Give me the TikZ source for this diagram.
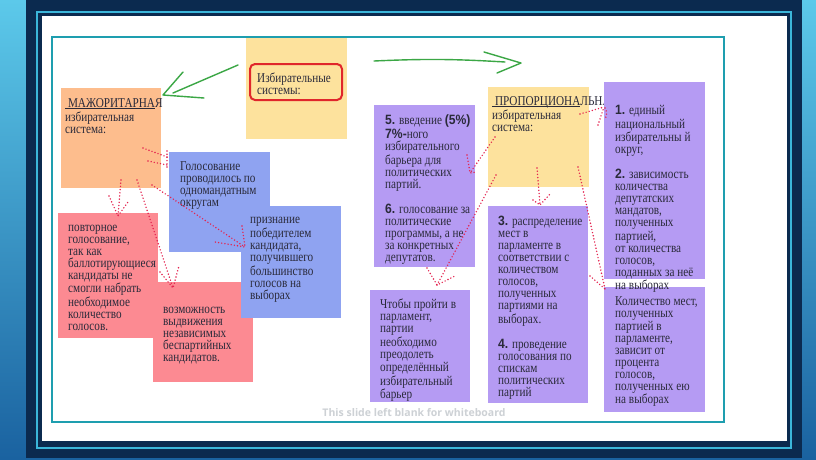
\documentclass[tikz,border=0pt]{standalone}
\usepackage{fontspec}
\setmainfont{Liberation Serif}[FakeStretch=0.83]
\newfontfamily\numfont{Liberation Sans}[FakeStretch=0.9]
\newfontfamily\notefont{Open Sans}
\usetikzlibrary{positioning}

\definecolor{bgtop}{HTML}{5CC9EA}
\definecolor{bgbot}{HTML}{1A62A0}
\definecolor{navy}{HTML}{0B2A4F}
\definecolor{skyline}{HTML}{3BB6DA}
\definecolor{tealline}{HTML}{1E9EAF}
\definecolor{cardyellow}{HTML}{FDE29D}
\definecolor{cardorange}{HTML}{FDBD8D}
\definecolor{cardblue}{HTML}{8FA3F1}
\definecolor{cardred}{HTML}{FC8A92}
\definecolor{cardviolet}{HTML}{B59BF3}
\definecolor{inkgray}{HTML}{2A2A3A}
\definecolor{dotred}{HTML}{E4234F}
\definecolor{pengreen}{HTML}{3BA745}
\definecolor{framered}{HTML}{E0262B}
\definecolor{notegray}{HTML}{CDD1D5}

\newcommand\nb[1]{{\numfont\bfseries #1}}
\newcommand\fatline[1]{\setbox0\hbox{#1}\rlap{\rule[-2.2pt]{\wd0}{1.2pt}}\box0}

\begin{document}
\begin{tikzpicture}[x=1pt,y=-1pt,
  card/.style={anchor=north west, inner sep=0pt, minimum width=101pt},
  words/.style={inner sep=0pt, align=left, text=inkgray, font=\fontsize{13.5}{12}\selectfont},
  redots/.style={draw=dotred, line width=1.6pt, line cap=round, dash pattern=on 0pt off 3.2pt},
  pen/.style={draw=pengreen, line width=1.4pt, line cap=round, line join=round}]

\useasboundingbox (0,0) rectangle (816,459);

% slide frame
\shade[top color=bgtop, bottom color=bgbot] (0,0) rectangle (816,459);
\fill[navy] (26,0) rectangle (802,458);
\draw[skyline, line width=2.5pt] (37,12) rectangle (791,448);
\fill[white] (42,16) rectangle (787,441);
\draw[tealline, line width=1.6pt] (52,37) rectangle (724,422);

% title
\node[card, fill=cardyellow, minimum height=101pt] (sys) at (246,38) {};
\node[draw=framered, line width=2pt, rounded corners=5pt, minimum width=92pt, minimum height=36pt, inner sep=0pt,
  below right=25pt and 3pt of sys.north west] (sysframe) {};
\node[words, below right=35pt and 11pt of sys.north west] (systext) {\strut Избирательные\\системы:};

% majority side
\node[card, fill=cardorange, minimum width=100pt, minimum height=100pt] (maj) at (61,88) {};
\node[words, below right=10pt and 4pt of maj.north west] (majtext)
  {\strut\fatline{\ МАЖОРИТАРНА}Я\\избирательная\\система:};

\node[card, fill=cardred, minimum width=100pt, minimum height=125pt] (again) at (58,213) {};
\node[words, below right=10pt and 10pt of again.north west] (againtext)
  {\strut повторное\\голосование,\\так как\\баллотирующиеся\\кандидаты не\\смогли набрать\\необходимое\\количество\\голосов.};

\node[card, fill=cardred, minimum width=100pt, minimum height=100pt] (indep) at (153,282) {};
\node[words, below right=23pt and 10pt of indep.north west] (indeptext)
  {\strut возможность\\выдвижения\\независимых\\беспартийных\\кандидатов.};

\node[card, fill=cardblue, minimum height=100pt] (vote) at (169,152) {};
\node[words, below right=9pt and 11pt of vote.north west] (votetext)
  {\strut Голосование\\проводилось по\\одномандатным\\округам};

\node[card, fill=cardblue, minimum width=100pt, minimum height=112pt] (win) at (241,206) {};
\node[words, below right=9pt and 9pt of win.north west] (wintext)
  {\strut признание\\победителем\\кандидата,\\получившего\\большинство\\голосов на\\выборах};

% proportional side
\node[card, fill=cardviolet, minimum height=162pt] (bar) at (374,105) {};
\node[words, below right=10pt and 11pt of bar.north west] (bartext)
  {\strut\nb{5.} введение \nb{(5\%)}\\\nb{7\%-}ного\\избирательного\\барьера для\\политических\\партий.\\[12pt]
   \nb{6.} голосование за\\политические\\программы, а не\\за конкретных\\депутатов.};

\node[card, fill=cardyellow, minimum height=100pt] (prop) at (488,87) {};
\node[words, below right=9pt and 4pt of prop.north west] (proptext)
  {\strut\fatline{\ ПРОПОРЦИОНА}ЛЬНАЯ\\избирательная\\система:};

\node[card, fill=cardviolet, minimum width=100pt, minimum height=197pt] (three) at (488,206) {};
\node[words, below right=10pt and 10pt of three.north west] (threetext)
  {\strut\nb{3.} распределение\\мест в\\парламенте в\\соответствии с\\количеством\\голосов,\\полученных\\партиями на\\выборах.\\[12pt]
   \nb{4.} проведение\\голосования по\\спискам\\политических\\партий};

\node[card, fill=cardviolet, minimum width=100pt, minimum height=112pt] (pass) at (370,290) {};
\node[words, below right=9pt and 10pt of pass.north west] (passtext)
  {\strut Чтобы пройти в\\парламент,\\партии\\необходимо\\преодолеть\\определённый\\избирательный\\барьер};

\node[card, fill=cardviolet, minimum height=125pt] (seats) at (604,287) {};
\node[words, below right=9pt and 11pt of seats.north west] (seatstext)
  {\strut Количество мест,\\полученных\\партией в\\парламенте,\\зависит от\\процента\\голосов,\\полученных ею\\на выборах};

\node[card, fill=cardviolet, minimum height=197pt] (one) at (604,82) {};
\node[words, below right=23pt and 11pt of one.north west] (onetext)
  {\strut\nb{1.} единый\\национальный\\избирательны й\\округ,\\[12pt]
   \nb{2.} зависимость\\количества\\депутатских\\мандатов,\\полученных\\партией,\\от количества\\голосов,\\поданных за неё\\на выборах};

% green pen strokes
\coordinate (g1from) at (238,65);
\coordinate (g1to) at (173,93);
\coordinate (g1tip) at (163,95);
\draw[pen] (g1from) -- (g1to);
\draw[pen] (183,72) -- (g1tip) -- (204,98);

\coordinate (g2from) at (374,61);
\coordinate (g2to) at (505,62);
\coordinate (g2tip) at (521,63);
\draw[pen] (g2from) to[bend left=3] (g2to);
\draw[pen] (484,52) -- (g2tip) -- (497,73);

% red dotted strokes
\draw[redots] (143,148) -- (167,157);
\draw[redots] (148,161) -- (167,165);
\draw[redots] (167,151) -- (167,168);

\draw[redots] (121,180) -- (118,216);
\draw[redots] (109,196) -- (118,216) -- (128,202);

\draw[redots] (137,180) -- (173,288);
\draw[redots] (160,272) -- (173,288) -- (179,266);

\draw[redots] (152,185) -- (245,247);
\draw[redots] (242,226) -- (245,247) -- (215,242);

\draw[redots] (495,137) -- (470,173);
\draw[redots] (467,155) -- (470,173) -- (476,172);

\draw[redots] (496,175) -- (437,285);
\draw[redots] (427,268) -- (437,285) -- (455,276);

\draw[redots] (537,168) -- (540,205);
\draw[redots] (533,200) -- (540,205) -- (550,194);

\draw[redots] (578,167) -- (605,289);
\draw[redots] (590,276) -- (605,289);

\draw[redots] (580,114) -- (604,107);
\draw[redots] (598,125) -- (604,107);
\draw[redots] (605,108) to[bend left=30] (605,119);

% footer
\node[font=\notefont\bfseries\fontsize{10.5}{12}\selectfont, text=notegray] (note) at (414,413) {This slide left blank for whiteboard};
\end{tikzpicture}
\end{document}
